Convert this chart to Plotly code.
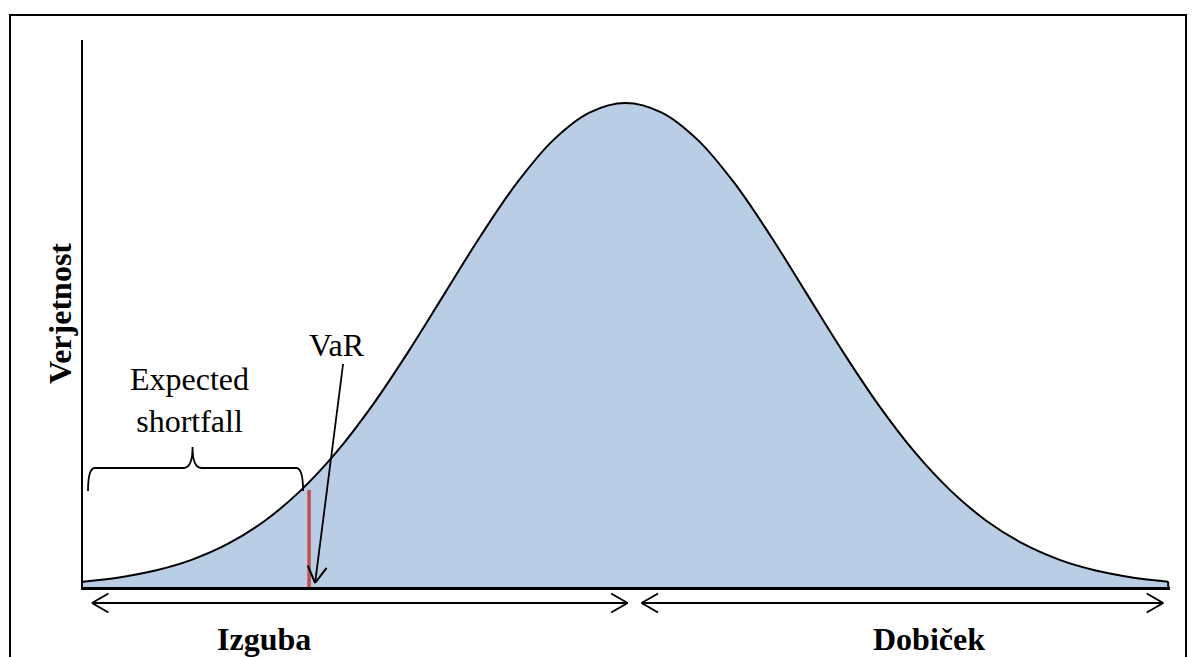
import math
import plotly.graph_objects as go

# Standardised return (in standard deviations) and the corresponding probability density
z_values = [-3.0, -2.8, -2.6, -2.4, -2.2, -2.0, -1.8, -1.6, -1.4, -1.2, -1.0, -0.8, -0.6, -0.4, -0.2,
            0.0, 0.2, 0.4, 0.6, 0.8, 1.0, 1.2, 1.4, 1.6, 1.8, 2.0, 2.2, 2.4, 2.6, 2.8, 3.0]
density = [0.0044, 0.0079, 0.0136, 0.0224, 0.0355, 0.0540, 0.0790, 0.1109, 0.1497, 0.1942, 0.2420,
           0.2897, 0.3332, 0.3683, 0.3910, 0.3989, 0.3910, 0.3683, 0.3332, 0.2897, 0.2420, 0.1942,
           0.1497, 0.1109, 0.0790, 0.0540, 0.0355, 0.0224, 0.0136, 0.0079, 0.0044]

# Value-at-Risk quantile and height of its marker
var_z = -1.75
var_marker_height = 0.080

label_var = "VaR"
label_es = "Expected<br>shortfall"
label_loss = "Izguba"
label_gain = "Dobiček"
label_y = "Verjetnost"

# ---- layout geometry -------------------------------------------------------
W, H = 1196, 657
ML, MR, MT, MB = 83, 26, 40, 70
PW, PH = W - ML - MR, H - MT - MB
X_RANGE = [z_values[0], z_values[-1] + 0.01]
Y_RANGE = [0, 0.4508]

FILL = "#B9CDE5"
RED = "#C0504D"
SERIF = "Liberation Serif, Times New Roman, serif"
FONT_SIZE = 32


def to_px_x(x):
    return ML + (x - X_RANGE[0]) / (X_RANGE[1] - X_RANGE[0]) * PW


def to_px_y(y):
    return MT + PH - (y - Y_RANGE[0]) / (Y_RANGE[1] - Y_RANGE[0]) * PH


def paper_x(px):
    return (px - ML) / PW


def paper_y(py):
    return (MT + PH - py) / PH


def seg(x0, y0, x1, y1, color="black", width=1.8):
    """Line segment given in pixel coordinates."""
    return dict(type="line", xref="paper", yref="paper",
                x0=paper_x(x0), y0=paper_y(y0), x1=paper_x(x1), y1=paper_y(y1),
                line=dict(color=color, width=width))


def open_head(tx, ty, bx, by, length=19, spread=30):
    """Open V-shaped arrow head at (tx, ty), shaft coming from (bx, by)."""
    dx, dy = bx - tx, by - ty
    n = math.hypot(dx, dy)
    ux, uy = dx / n, dy / n
    out = []
    for sgn in (1, -1):
        a = math.radians(spread) * sgn
        rx = ux * math.cos(a) - uy * math.sin(a)
        ry = ux * math.sin(a) + uy * math.cos(a)
        out.append(seg(tx, ty, tx + rx * length, ty + ry * length, width=2))
    return out


fig = go.Figure()

# Density curve with shaded area
fig.add_trace(go.Scatter(
    x=z_values, y=density, mode="lines",
    line=dict(color="black", width=2, shape="spline", smoothing=1.0),
    fill="tozeroy", fillcolor=FILL, hoverinfo="skip", showlegend=False,
))

shapes = []

# closing edge at the right end of the curve
shapes.append(seg(to_px_x(z_values[-1]), to_px_y(0), to_px_x(z_values[-1]), to_px_y(density[-1]), width=2))

# VaR marker
vx = to_px_x(var_z)
shapes.append(seg(vx, to_px_y(0), vx, to_px_y(var_marker_height), color=RED, width=3.5))

# Arrow pointing from the label to the VaR
tip = (vx + 6, to_px_y(0) - 4)
tail = (vx + 34, 364)
shapes.append(seg(tail[0], tail[1], tip[0], tip[1]))
shapes += open_head(tip[0], tip[1], tail[0], tail[1])

# Curly brace over the tail beyond the VaR
bx0, bx1 = to_px_x(z_values[0]) + 5, vx - 6
bxm = (bx0 + bx1) / 2 - 3
y_end, y_bar, y_tip = 491, 468, 447
r = 7
brace = (f"M {paper_x(bx0)},{paper_y(y_end)} "
         f"Q {paper_x(bx0)},{paper_y(y_bar)} {paper_x(bx0 + r)},{paper_y(y_bar)} "
         f"L {paper_x(bxm - 9)},{paper_y(y_bar)} "
         f"Q {paper_x(bxm)},{paper_y(y_bar)} {paper_x(bxm)},{paper_y(y_tip)} "
         f"Q {paper_x(bxm)},{paper_y(y_bar)} {paper_x(bxm + 9)},{paper_y(y_bar)} "
         f"L {paper_x(bx1 - r)},{paper_y(y_bar)} "
         f"Q {paper_x(bx1)},{paper_y(y_bar)} {paper_x(bx1)},{paper_y(y_end)}")
shapes.append(dict(type="path", xref="paper", yref="paper", path=brace,
                   line=dict(color="black", width=1.8)))

# Loss / gain double arrows under the axis
ay = to_px_y(0) + 16
xl0, xl1 = to_px_x(z_values[0]) + 9, to_px_x(0) + 2
xr0, xr1 = to_px_x(0) + 16, to_px_x(z_values[-1]) - 5
shapes.append(seg(xl0, ay, xl1, ay))
shapes += open_head(xl0, ay, xl1, ay)
shapes += open_head(xl1, ay, xl0, ay)
shapes.append(seg(xr0, ay, xr1, ay))
shapes += open_head(xr0, ay, xr1, ay)
shapes += open_head(xr1, ay, xr0, ay)

# Frame around the whole drawing
shapes.append(dict(type="rect", xref="paper", yref="paper",
                   x0=paper_x(10), x1=paper_x(1186), y0=paper_y(675), y1=paper_y(15),
                   line=dict(color="black", width=2)))

font = dict(family=SERIF, size=FONT_SIZE, color="black")
annotations = [
    dict(text=label_var, x=paper_x(vx + 28), y=paper_y(345), xref="paper", yref="paper",
         showarrow=False, xanchor="center", yanchor="middle", font=font),
    dict(text=label_es, x=paper_x(189), y=paper_y(400), xref="paper", yref="paper",
         showarrow=False, xanchor="center", yanchor="middle", align="center", font=font),
    dict(text=f"<b>{label_loss}</b>", x=paper_x(264), y=paper_y(639), xref="paper", yref="paper",
         showarrow=False, xanchor="center", yanchor="middle", font=font),
    dict(text=f"<b>{label_gain}</b>", x=paper_x(929), y=paper_y(639), xref="paper", yref="paper",
         showarrow=False, xanchor="center", yanchor="middle", font=font),
    dict(text=f"<b>{label_y}</b>", x=paper_x(60), y=paper_y(314), xref="paper", yref="paper",
         showarrow=False, xanchor="center", yanchor="middle", textangle=-90, font=font),
]

fig.update_layout(
    width=W, height=H,
    margin=dict(l=ML, r=MR, t=MT, b=MB),
    paper_bgcolor="white", plot_bgcolor="white",
    shapes=shapes, annotations=annotations,
    showlegend=False,
    xaxis=dict(range=X_RANGE, showgrid=False, zeroline=False, showticklabels=False, ticks="",
               showline=True, linecolor="black", linewidth=2.5, fixedrange=True),
    yaxis=dict(range=Y_RANGE, showgrid=False, zeroline=False, showticklabels=False, ticks="",
               showline=True, linecolor="black", linewidth=2, fixedrange=True),
)

fig.write_html("out.html", config={"displayModeBar": False})
